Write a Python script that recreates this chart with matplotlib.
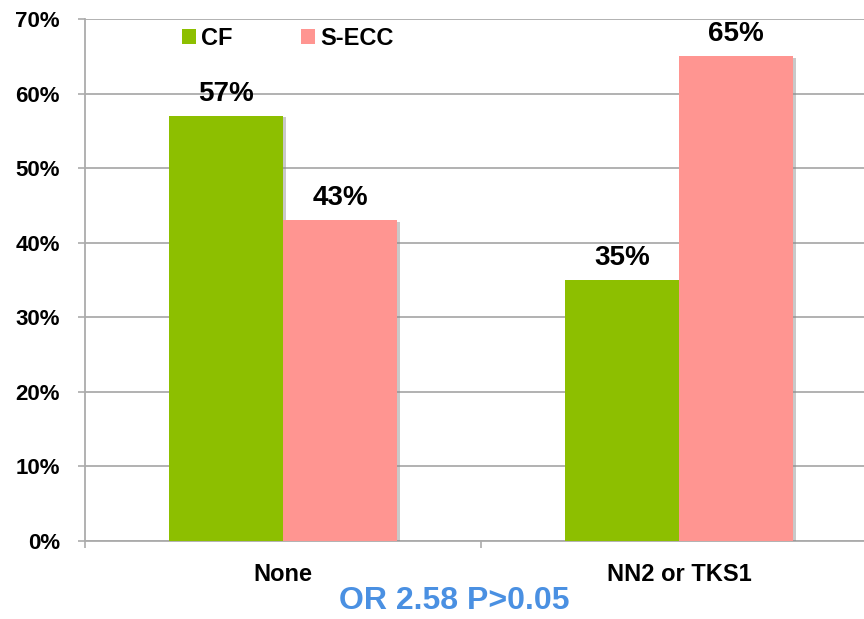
import matplotlib.pyplot as plt
import matplotlib.patheffects as pe
from matplotlib.ticker import PercentFormatter

categories = ["None", "NN2 or TKS1"]
cf = [57, 35]
secc = [43, 65]
yticks = [0, 10, 20, 30, 40, 50, 60, 70]

font = ["Liberation Sans", "DejaVu Sans"]
green = "#8dbf00"
pink = "#ff9591"
grid_col = "#ababab"

fig = plt.figure(figsize=(8.64, 6.19), dpi=100)
# axis box runs a little past the right edge, like the slide it came from
ax = fig.add_axes([85 / 864, (619 - 541) / 619, 792 / 864, 522 / 619])

w = 0.288
x = range(len(categories))
shadow = [pe.SimplePatchShadow(offset=(2, -1), shadow_rgbFace="#888888", alpha=0.45), pe.Normal()]
b1 = ax.bar([i - w / 2 for i in x], cf, width=w, color=green, label="CF", zorder=3,
            path_effects=shadow)
b2 = ax.bar([i + w / 2 for i in x], secc, width=w, color=pink, label="S-ECC", zorder=3,
            path_effects=shadow)

for bars, vals in ((b1, cf), (b2, secc)):
    for b, v in zip(bars, vals):
        ax.text(b.get_x() + b.get_width() / 2, v + 1.2, f"{v}%", ha="center", va="bottom",
                fontsize=20, fontweight="bold", family=font, zorder=4)

ax.set_xlim(-0.5, 1.5)
ax.set_ylim(0, 70)
ax.set_yticks(yticks)
ax.yaxis.set_major_formatter(PercentFormatter(decimals=0))
ax.set_xticks([-0.5, 0.5])
ax.set_xticklabels([])
ax.tick_params(axis="x", length=5, width=1.2, color=grid_col, direction="out")
ax.tick_params(axis="y", length=5, width=1.2, color=grid_col, direction="out", pad=13)
for lab in ax.get_yticklabels():
    lab.set_fontsize(16)
    lab.set_fontweight("bold")
    lab.set_family(font)

for i, name in enumerate(categories):
    ax.text(i, -2.9, name, ha="center", va="top", fontsize=17, fontweight="bold",
            family=font)
ax.text(0.432, -6.0, "OR 2.58 P>0.05", ha="center", va="top", fontsize=23, fontweight="bold",
        family=font, color="#4a90e2")

ax.grid(axis="y", color=grid_col, linewidth=1.3, zorder=0)
for side in ("top", "right"):
    ax.spines[side].set_visible(False)
for side in ("left", "bottom"):
    ax.spines[side].set_color(grid_col)
    ax.spines[side].set_linewidth(1.3)

leg = ax.legend(loc="upper left", bbox_to_anchor=(0.1225, 0.985), ncol=2, frameon=False,
                borderpad=0, borderaxespad=0,
                handlelength=0.6, handleheight=0.6, handletextpad=0.2, columnspacing=2.9,
                prop={"family": font, "weight": "bold", "size": 17})
for h in leg.legend_handles:
    h.set_path_effects([])

fig.savefig("out.png", dpi=100)
